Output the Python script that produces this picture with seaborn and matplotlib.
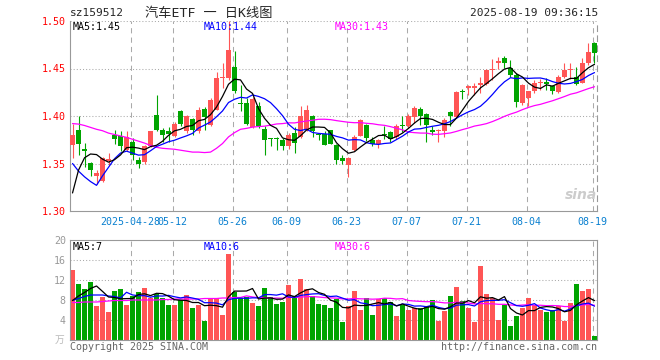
import matplotlib
matplotlib.use('Agg')
import matplotlib.pyplot as plt
import numpy as np
import pandas as pd
import seaborn as sns

# daily candles 2025-04-14 .. 2025-08-19 (88 sessions)
open_ = [1.370, 1.385, 1.365, 1.350, 1.337, 1.332, 1.353, 1.380, 1.379, 1.364,
         1.373, 1.354, 1.352, 1.368, 1.401, 1.385, 1.384, 1.379, 1.405, 1.384,
         1.397, 1.384, 1.407, 1.391, 1.406, 1.440, 1.440, 1.452, 1.414, 1.414,
         1.388, 1.411, 1.386, 1.377, 1.377, 1.375, 1.368, 1.382, 1.378, 1.385,
         1.400, 1.381, 1.381, 1.385, 1.370, 1.356, 1.348, 1.364, 1.379, 1.391,
         1.375, 1.371, 1.381, 1.383, 1.378, 1.390, 1.390, 1.399, 1.407, 1.402,
         1.385, 1.384, 1.384, 1.404, 1.399, 1.426, 1.430, 1.430, 1.433, 1.434,
         1.448, 1.456, 1.461, 1.451, 1.443, 1.414, 1.419, 1.426, 1.435, 1.436,
         1.432, 1.425, 1.441, 1.448, 1.441, 1.435, 1.456, 1.477]
high = [1.392, 1.400, 1.372, 1.352, 1.343, 1.357, 1.361, 1.385, 1.384, 1.384,
        1.377, 1.357, 1.370, 1.384, 1.422, 1.387, 1.388, 1.394, 1.406, 1.401,
        1.398, 1.410, 1.410, 1.419, 1.446, 1.456, 1.500, 1.468, 1.433, 1.419,
        1.420, 1.415, 1.389, 1.377, 1.378, 1.377, 1.382, 1.388, 1.411, 1.412,
        1.401, 1.382, 1.384, 1.385, 1.371, 1.359, 1.357, 1.380, 1.397, 1.392,
        1.378, 1.376, 1.390, 1.384, 1.392, 1.400, 1.402, 1.411, 1.410, 1.403,
        1.390, 1.386, 1.398, 1.405, 1.426, 1.428, 1.433, 1.435, 1.441, 1.449,
        1.460, 1.462, 1.463, 1.459, 1.445, 1.434, 1.426, 1.438, 1.439, 1.440,
        1.433, 1.443, 1.456, 1.456, 1.452, 1.461, 1.477, 1.478]
low = [1.356, 1.359, 1.346, 1.337, 1.328, 1.331, 1.348, 1.371, 1.363, 1.363,
       1.354, 1.345, 1.349, 1.367, 1.384, 1.373, 1.373, 1.378, 1.389, 1.382,
       1.380, 1.382, 1.385, 1.389, 1.406, 1.429, 1.438, 1.424, 1.405, 1.391,
       1.387, 1.387, 1.359, 1.368, 1.364, 1.364, 1.365, 1.361, 1.377, 1.384,
       1.378, 1.375, 1.370, 1.371, 1.350, 1.349, 1.336, 1.363, 1.379, 1.374,
       1.368, 1.366, 1.376, 1.373, 1.376, 1.383, 1.387, 1.393, 1.391, 1.373,
       1.380, 1.373, 1.378, 1.389, 1.398, 1.418, 1.422, 1.422, 1.424, 1.433,
       1.438, 1.449, 1.451, 1.441, 1.409, 1.412, 1.411, 1.424, 1.427, 1.427,
       1.423, 1.424, 1.440, 1.439, 1.433, 1.435, 1.454, 1.456]
close = [1.380, 1.371, 1.363, 1.343, 1.340, 1.356, 1.355, 1.376, 1.368, 1.378,
         1.359, 1.350, 1.368, 1.384, 1.385, 1.380, 1.381, 1.392, 1.392, 1.400,
         1.385, 1.406, 1.399, 1.417, 1.440, 1.441, 1.470, 1.426, 1.413, 1.392,
         1.418, 1.390, 1.375, 1.376, 1.376, 1.368, 1.380, 1.372, 1.400, 1.406,
         1.384, 1.380, 1.370, 1.371, 1.354, 1.353, 1.356, 1.378, 1.396, 1.377,
         1.371, 1.375, 1.380, 1.376, 1.390, 1.389, 1.400, 1.408, 1.400, 1.391,
         1.383, 1.385, 1.396, 1.400, 1.425, 1.425, 1.431, 1.432, 1.435, 1.448,
         1.450, 1.458, 1.456, 1.443, 1.415, 1.433, 1.426, 1.435, 1.436, 1.434,
         1.426, 1.441, 1.448, 1.449, 1.434, 1.456, 1.467, 1.466]
# volume, 万
volume = [14.1, 11.2, 10.3, 11.6, 6.8, 8.7, 5.6, 9.8, 10.3, 7.0,
          8.8, 9.6, 10.5, 8.5, 9.3, 8.5, 7.0, 7.0, 8.0, 9.0,
          6.5, 7.0, 3.8, 8.5, 8.5, 5.0, 17.3, 9.6, 8.5, 8.6,
          7.5, 6.8, 10.5, 8.6, 7.3, 7.7, 11.0, 8.8, 12.3, 10.3,
          8.8, 7.3, 7.0, 6.5, 8.2, 3.6, 6.8, 9.8, 6.0, 8.4,
          5.0, 8.2, 8.4, 7.6, 4.8, 7.0, 6.0, 6.4, 6.4, 6.8,
          8.0, 3.8, 5.8, 8.8, 10.6, 7.8, 6.4, 3.6, 14.8, 9.2,
          8.4, 4.0, 7.0, 2.8, 4.8, 6.4, 8.4, 7.0, 6.0, 5.6,
          6.0, 6.8, 3.8, 7.4, 11.2, 9.8, 10.2, 0.8]

# moving-average values before a full window exists
ma5_head = [1.319, 1.343, 1.356, 1.360]
ma10_head = [1.350, 1.342, 1.336, 1.331, 1.327, 1.337, 1.346, 1.355, 1.361]
ma30_head = [1.392, 1.3915, 1.390, 1.388, 1.386, 1.3845, 1.382, 1.3805, 1.379, 1.3775,
             1.3755, 1.3735, 1.3715, 1.369, 1.367, 1.366, 1.3655, 1.365, 1.364, 1.363,
             1.362, 1.362, 1.3615, 1.362, 1.366, 1.371, 1.378, 1.3825, 1.386]
vma5_head = [7.9, 8.8, 9.5, 10.3]
vma10_head = [7.9, 8.3, 8.7, 9.0, 9.0, 9.0, 8.8, 8.7, 8.4]
vma30_head = [7.5, 7.5, 7.6, 7.6, 7.6, 7.7, 7.8, 7.9, 7.9, 7.9,
              8.0, 8.0, 8.0, 8.0, 8.0, 8.1, 8.1, 8.2, 8.2, 8.2,
              8.2, 8.2, 8.3, 8.3, 8.3, 8.4, 8.4, 8.5, 8.5]

tick_idx = [10, 17, 27, 36, 46, 56, 66, 76, 87]
tick_labels = ['2025-04-28', '05-12', '05-26', '06-09', '06-23',
               '07-07', '07-21', '08-04', '08-19']

RED = '#ff5555'
GREEN = '#00a400'
GRID = '#aaaaaa'
FRAME = '#999999'


def moving(values, n, head):
    s = pd.Series(values, dtype=float).rolling(n).mean().to_numpy()
    s[:len(head)] = head
    return s


def rect(l, t, r, b):
    return [l / 660, 1 - b / 360, (r - l) / 660, (b - t) / 360]


def put(x, y, s, **kw):
    fig.text(x / 660, 1 - y / 360, s, **kw)


def cut2(v):
    # sina truncates the MA readout instead of rounding it
    return f"{np.floor(v * 100 + 1e-9) / 100:.2f}"


sns.set_style('white')
MONO = ['DejaVu Sans Mono', 'Noto Sans CJK SC']
plt.rcParams['font.family'] = MONO

df = pd.DataFrame({'open': open_, 'high': high, 'low': low,
                   'close': close, 'volume': volume})
df['idx'] = np.arange(len(df))
df['up'] = df['close'] >= df['open']
df['color'] = np.where(df['up'], RED, GREEN)
df['ma5'] = moving(close, 5, ma5_head)
df['ma10'] = moving(close, 10, ma10_head)
df['ma30'] = moving(close, 30, ma30_head)
df['vma5'] = moving(volume, 5, vma5_head)
df['vma10'] = moving(volume, 10, vma10_head)
df['vma30'] = moving(volume, 30, vma30_head)

fig = plt.figure(figsize=(6.6, 3.6), dpi=100)
ax = fig.add_axes(rect(70, 21, 597, 211))
axv = fig.add_axes(rect(70, 240, 597, 340))
xlim = (-0.42, 87.42)
tick_pos = [t - 0.3 for t in tick_idx]

# ---- price panel
for y in [1.35, 1.40, 1.45, 1.50]:
    ax.axhline(y, color=GRID, lw=0.75, ls=(0, (1, 2)), zorder=0)
for x in tick_pos:
    ax.axvline(x, color=GRID, lw=0.75, ls=(0, (5, 4)), zorder=0)

body_lo = df[['open', 'close']].min(axis=1)
body_h = (df['close'] - df['open']).abs().clip(lower=0.0011)
ax.vlines(df['idx'], df['low'], df['high'], colors=df['color'], lw=0.8, zorder=2)
ax.bar(df['idx'], body_h, bottom=body_lo, width=0.83, color=df['color'],
       linewidth=0, zorder=3)
for col, c in [('ma30', '#ff00ff'), ('ma10', '#0000ff'), ('ma5', 'black')]:
    sns.lineplot(data=df, x='idx', y=col, color=c, lw=0.9, ax=ax, zorder=4)

ax.set_xlim(*xlim)
ax.set_ylim(1.30, 1.50)
ax.set_yticks([1.30, 1.35, 1.40, 1.45, 1.50])
ax.set_yticklabels(['1.30', '1.35', '1.40', '1.45', '1.50'], color='red', fontsize=7.2)
ax.set_xticks(tick_pos)
ax.set_xticklabels(tick_labels, color='#0a80d0', fontsize=7.2)
ax.tick_params(length=0, pad=3)
ax.tick_params(axis='x', pad=4.5)
ax.set_xlabel('')
ax.set_ylabel('')
for side in ['left', 'bottom']:
    ax.spines[side].set_color(FRAME)
    ax.spines[side].set_linewidth(0.8)
ax.spines['top'].set_visible(False)
ax.spines['right'].set_color(FRAME)
ax.spines['right'].set_linewidth(0.8)
ax.spines['right'].set_linestyle((0, (5, 4)))

# ---- volume panel
for y in [4, 8, 12, 16]:
    axv.axhline(y, color=GRID, lw=0.75, ls=(0, (1, 2)), zorder=0)
for x in tick_pos:
    axv.axvline(x, color=GRID, lw=0.75, ls=(0, (5, 4)), zorder=0)
sns.barplot(data=df, x='idx', y='volume', hue='up',
            palette={True: RED, False: GREEN}, dodge=False, native_scale=True,
            width=0.83, saturation=1, linewidth=0, legend=False, errorbar=None,
            ax=axv, zorder=2)
for col, c in [('vma30', '#ff00ff'), ('vma10', '#0000ff'), ('vma5', 'black')]:
    sns.lineplot(data=df, x='idx', y=col, color=c, lw=0.9, ax=axv, zorder=4)
axv.set_xlim(*xlim)
axv.set_ylim(0, 20)
axv.set_yticks([4, 8, 12, 16, 20])
axv.set_yticklabels(['4', '8', '12', '16', '20'], color=FRAME, fontsize=7.2)
axv.set_xticks([])
axv.tick_params(length=0, pad=3)
axv.set_xlabel('')
axv.set_ylabel('')
for s in axv.spines.values():
    s.set_color(FRAME)
    s.set_linewidth(0.8)

# ---- texts
put(70, 13, 'sz159512', fontsize=8, va='center', ha='left')
put(209, 13, '汽车ETF 一 日K线图', fontsize=9.5, va='center', ha='center')
put(598, 13, '2025-08-19 09:36:15', fontsize=8, va='center', ha='right')

put(73, 27, f"MA5:{cut2(df['ma5'].iloc[-1])}", fontsize=7.2, va='center', color='black')
put(204, 27, f"MA10:{cut2(df['ma10'].iloc[-1])}", fontsize=7.2, va='center', color='#0000ff')
put(335, 27, f"MA30:{cut2(df['ma30'].iloc[-1])}", fontsize=7.2, va='center', color='#ff00ff')
put(73, 246.5, f"MA5:{int(df['vma5'].iloc[-1])}", fontsize=7.2, va='center', color='black')
put(204, 246.5, f"MA10:{int(df['vma10'].iloc[-1])}", fontsize=7.2, va='center', color='#0000ff')
put(335, 246.5, f"MA30:{int(df['vma30'].iloc[-1])}", fontsize=7.2, va='center', color='#ff00ff')

put(64, 340, '万', fontsize=7, va='center', ha='right', color='#bbbbbb')
put(70, 347, 'Copyright 2025 SINA.COM', fontsize=7.2, va='center', ha='left', color='#666666')
put(597, 347, 'http://finance.sina.com.cn', fontsize=7.2, va='center', ha='right', color='#666666')
put(581, 195, 'sina', fontsize=10, va='center', ha='center', color='#cccccc',
    fontstyle='italic', fontweight='bold', family='DejaVu Sans')

fig.savefig('out.png', dpi=100)
plt.close(fig)
